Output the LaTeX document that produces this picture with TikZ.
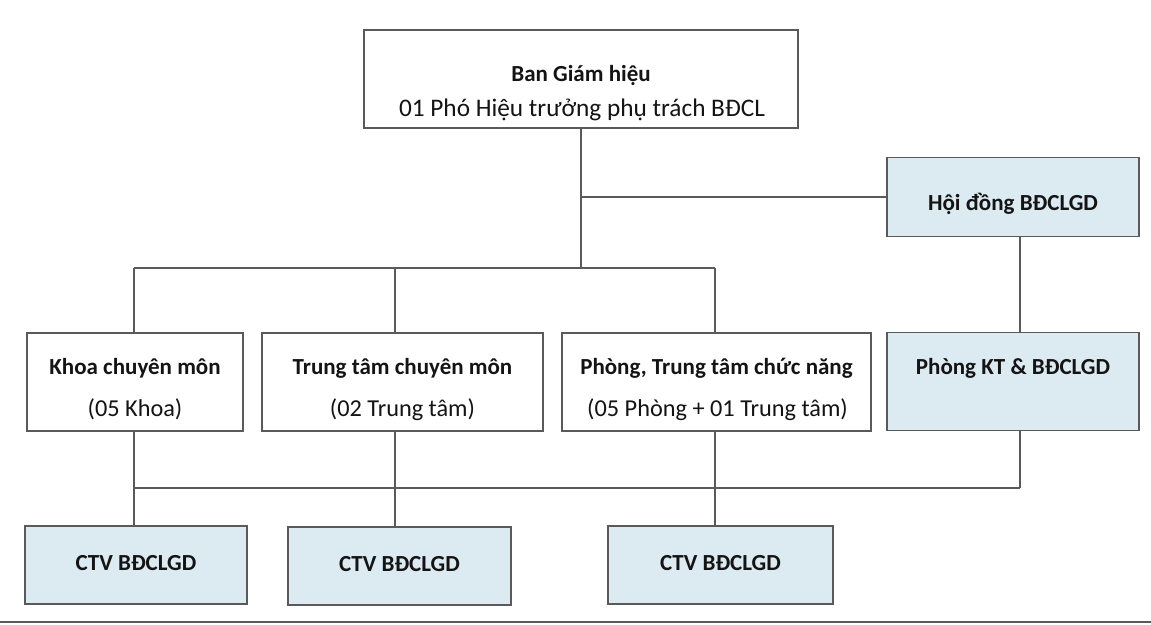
\documentclass[tikz,border=0pt]{standalone}
\usepackage{fontspec}
\setmainfont{Carlito}
\usetikzlibrary{calc}
\definecolor{boxblue}{RGB}{220,234,242}
\definecolor{edge}{RGB}{90,90,90}
\definecolor{txt}{RGB}{20,20,20}
\begin{document}
\begin{tikzpicture}[x=1pt,y=-1pt,
  box/.style={draw=edge, line width=1.6pt, inner sep=0pt, fill=white},
  bluebox/.style={box, fill=boxblue},
  bt/.style={anchor=base, inner sep=0pt, font=\fontsize{23}{27}\selectfont\bfseries, text=txt},
  nt/.style={anchor=base, inner sep=0pt, font=\fontsize{24.3}{28}\selectfont, text=txt},
  ntbig/.style={nt, font=\fontsize{25.3}{29}\selectfont},
  conn/.style={draw=edge, line width=1.6pt}]
\useasboundingbox (0,0) rectangle (1151,624);
% column x positions
\coordinate (x1) at (134,0);
\coordinate (x2) at (395,0);
\coordinate (x3) at (715,0);
\coordinate (x4) at (1020,0);
\coordinate (top) at (581,0);
\coordinate (y1) at (0,268);
\coordinate (y2) at (0,488);
% boxes
\node[box, minimum width=434, minimum height=98] (bgh) at (581,79) {};
\node[bt] (bgh1) at (581,81.5) {Ban Giám hiệu};
\node[ntbig] (bgh2) at (582,116) {01 Phó Hiệu trưởng phụ trách BĐCL};

\node[bluebox, minimum width=252, minimum height=79] (hd) at (1013,197) {};
\node[bt] (hdt) at (1013,210) {Hội đồng BĐCLGD};

\node[box, minimum width=216, minimum height=98] (khoa) at (135,382) {};
\node[bt] (khoa1) at (135,374) {Khoa chuyên môn};
\node[nt] (khoa2) at (135,416.5) {(05 Khoa)};

\node[box, minimum width=281, minimum height=98] (tt) at (402.5,382) {};
\node[bt] (tt1) at (402.5,374) {Trung tâm chuyên môn};
\node[nt] (tt2) at (402.5,416.5) {(02 Trung tâm)};

\node[box, minimum width=309, minimum height=98] (ph) at (716.5,382) {};
\node[bt] (ph1) at (716.5,374) {Phòng, Trung tâm chức năng};
\node[nt] (ph2) at (717.5,416.5) {(05 Phòng + 01 Trung tâm)};

\node[bluebox, minimum width=252, minimum height=98] (pkt) at (1013,381.5) {};
\node[bt] (pktt) at (1013,374) {Phòng KT \& BĐCLGD};

\node[bluebox, minimum width=222, minimum height=78] (c1) at (136,565) {};
\node[bt] (c1t) at (136,570) {CTV BĐCLGD};
\node[bluebox, minimum width=223, minimum height=78] (c2) at (399.5,566) {};
\node[bt] (c2t) at (399.5,571) {CTV BĐCLGD};
\node[bluebox, minimum width=225, minimum height=78] (c3) at (720.5,565) {};
\node[bt] (c3t) at (720.5,570) {CTV BĐCLGD};

% connectors
\draw[conn] (top |- bgh.south) -- (top |- y1);
\draw[conn] (top |- hd.west) -- (hd.west);
\draw[conn] (x1 |- y1) -- (x3 |- y1);
\draw[conn] (x1 |- y1) -- (x1 |- khoa.north);
\draw[conn] (x2 |- y1) -- (x2 |- tt.north);
\draw[conn] (x3 |- y1) -- (x3 |- ph.north);
\draw[conn] (x4 |- hd.south) -- (x4 |- pkt.north);

\draw[conn] (x1 |- y2) -- (x4 |- y2);
\draw[conn] (x1 |- khoa.south) -- (x1 |- c1.north);
\draw[conn] (x2 |- tt.south) -- (x2 |- c2.north);
\draw[conn] (x3 |- ph.south) -- (x3 |- c3.north);
\draw[conn] (x4 |- pkt.south) -- (x4 |- y2);

% bottom rule
\coordinate (bl) at (0,622);
\coordinate (br) at (1151,622);
\draw[draw=edge, line width=2pt] (bl) -- (br);
\end{tikzpicture}
\end{document}
